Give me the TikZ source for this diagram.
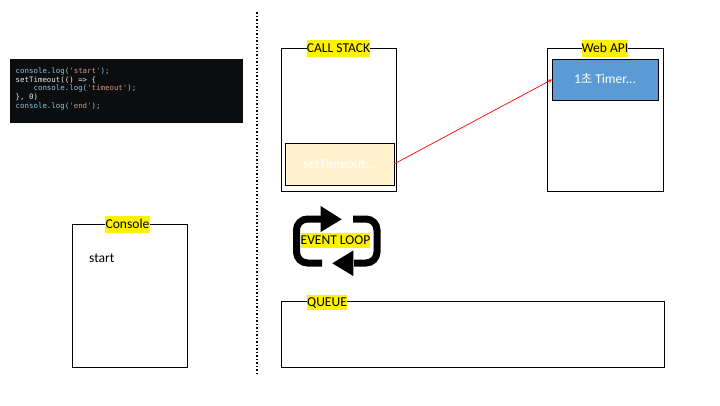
\documentclass[tikz,border=0pt]{standalone}
\usepackage{fontspec}
\setmainfont{Carlito}
\newfontfamily\krfont{Noto Sans CJK KR}
\newfontfamily\codefont{DejaVu Sans Mono}
\usetikzlibrary{arrows.meta,positioning}
\definecolor{codebg}{HTML}{0C0D0F}
\definecolor{codeblue}{HTML}{86C8E0}
\definecolor{codered}{HTML}{D89478}
\definecolor{codewhite}{HTML}{EDEDED}
\definecolor{boxcream}{HTML}{FFF2CC}
\definecolor{boxblue}{HTML}{5B9BD5}
\tikzset{
  x=1bp,y=-1bp,
  panel/.style={draw=black,line width=1bp,fill=white,inner sep=0pt,outer sep=0pt,anchor=north west},
  item/.style={draw=black,line width=1bp,inner sep=0pt,outer sep=0pt,anchor=north west,font=\fontsize{13.5}{15}\selectfont,text height=10pt,text depth=1pt},
  tag/.style={fill=yellow,inner sep=0pt,outer sep=0pt,text=black,font=\fontsize{13.6}{15}\selectfont,text height=10pt,text depth=2pt},
  loopline/.style={line width=7bp,draw=black,rounded corners=11bp},
  loophead/.style={fill=black,draw=none},
  codeline/.style={anchor=west,inner sep=0pt,font=\codefont\fontsize{7.45}{9}\selectfont,text=codeblue}
}
\begin{document}
\begin{tikzpicture}
\useasboundingbox (0,0) rectangle (720,405);
\fill[white] (0,0) rectangle (720,405);
% divider
\coordinate (divtop) at (257,12);
\coordinate (divbot) at (257,373);
\draw[black,line width=1.3bp,dash pattern=on 1.5bp off 2bp] (divtop) -- (divbot);
% code
\node[fill=codebg,inner sep=0pt,anchor=north west,minimum width=233bp,minimum height=64bp] (code) at (10,59) {};
\node[codeline] (c1) at (15.5,71) {console.log(\textcolor{codered}{'start'});};
\node[codeline] (c2) at (15.5,80) {\textcolor{codewhite}{setTimeout(() => \{}};
\node[codeline] (c3) at (15.5,88.5) {\ \ \ \ console.log(\textcolor{codered}{'timeout'});};
\node[codeline] (c4) at (15.5,97.5) {\textcolor{codewhite}{\}, 0)}};
\node[codeline] (c5) at (15.5,106) {console.log(\textcolor{codered}{'end'});};
% panels
\node[panel,minimum width=115bp,minimum height=143bp] (stack) at (281.5,48) {};
\node[panel,minimum width=116bp,minimum height=143bp] (api) at (547.5,48) {};
\node[panel,minimum width=115bp,minimum height=143bp] (console) at (72.5,224) {};
\node[panel,minimum width=382.5bp,minimum height=66bp] (queue) at (281.5,301) {};
% items
\node[item,fill=boxcream,text=white,minimum width=109bp,minimum height=42bp] (settimeout) at (285,143) {setTimeout...};
\node[item,fill=boxblue,text=white,minimum width=106bp,minimum height=41bp] (timer) at (552,59) {1{\krfont\fontsize{12.5}{15}\selectfont 초} Timer...};
\node[anchor=west,inner sep=0pt,font=\fontsize{13.6}{15}\selectfont] (startout) at (89,258) {start};
% tags
\node[tag,minimum width=63bp,minimum height=17bp] (tagstack) at (338.5,48.5) {CALL STACK};
\node[tag,minimum width=46bp,minimum height=17bp] (tagapi) at (605,48.5) {Web API};
\node[tag,minimum width=45bp,minimum height=17bp] (tagconsole) at (127.5,224.5) {Console};
\node[tag,minimum width=40bp,minimum height=15bp] (tagqueue) at (327,302.5) {QUEUE};
% connector
\draw[red,line width=0.7bp,-{Stealth[length=4bp,width=3.5bp]}] (settimeout.east) -- (timer.west);
% event loop icon
\coordinate (la) at (322,219);
\coordinate (lb) at (322,263);
\coordinate (ra) at (353,219);
\coordinate (rb) at (354,263);
\draw[loopline] (la) -- (296.5,219) -- (296.5,263) -- (lb);
\draw[loopline] (ra) -- (377,219) -- (377,263) -- (rb);
\fill[loophead] (320.7,206) -- (341.7,219.3) -- (320.7,232) -- cycle;
\fill[loophead] (353.3,250.5) -- (332.3,263.3) -- (353.3,276) -- cycle;
\node[tag,minimum width=69bp,minimum height=15bp] (tagloop) at (335.5,240.5) {EVENT LOOP};
\end{tikzpicture}
\end{document}
